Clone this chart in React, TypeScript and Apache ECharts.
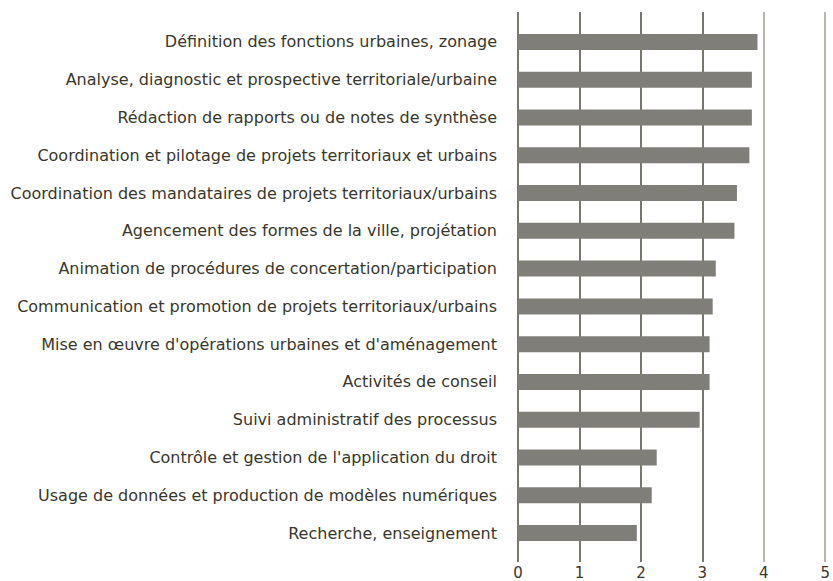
import React, { useEffect, useRef } from "react";
import * as echarts from "echarts";

const categories = [
  "Définition des fonctions urbaines, zonage",
  "Analyse, diagnostic et prospective territoriale/urbaine",
  "Rédaction de rapports ou de notes de synthèse",
  "Coordination et pilotage de projets territoriaux et urbains",
  "Coordination des mandataires de projets territoriaux/urbains",
  "Agencement des formes de la ville, projétation",
  "Animation de procédures de concertation/participation",
  "Communication et promotion de projets territoriaux/urbains",
  "Mise en œuvre d'opérations urbaines et d'aménagement",
  "Activités de conseil",
  "Suivi administratif des processus",
  "Contrôle et gestion de l'application du droit",
  "Usage de données et production de modèles numériques",
  "Recherche, enseignement",
];
const values = [3.85, 3.76, 3.76, 3.72, 3.52, 3.48, 3.18, 3.13, 3.08, 3.08, 2.92, 2.23, 2.15, 1.91];
const tickLabels = ["0", "1", "2", "3", "4", "5"];

export default function App() {
  const ref = useRef<HTMLDivElement>(null);
  useEffect(() => {
    const chart = echarts.init(ref.current!, null, { renderer: "svg" });
    const font = "'DejaVu Sans'";
    chart.setOption({
      animation: false,
      grid: [
        { left: 518, right: 4, top: 23, bottom: 29, containLabel: false },
        { left: 518, right: 4, top: 12, bottom: 19, containLabel: false },
      ],
      xAxis: [
        {
          gridIndex: 0,
          type: "value",
          min: 0,
          max: 5,
          interval: 1,
          axisLine: { show: false },
          axisTick: { show: false },
          axisLabel: { show: false },
          splitLine: { show: false },
        },
        {
          gridIndex: 1,
          type: "value",
          min: 0,
          max: 5,
          interval: 1,
          axisLine: { show: false },
          axisTick: { show: false },
          axisLabel: {
            show: true,
            margin: 4,
            color: "#3a372c",
            fontSize: 15,
            lineHeight: 14,
            fontFamily: font,
            formatter: (v: number) => tickLabels[Math.round(v)],
          },
          splitLine: {
            show: true,
            lineStyle: {
              width: 1.5,
              color: ["#4d4a3c", "#4d4a3c", "#4d4a3c", "#4d4a3c", "#a09e94", "#a09e94"],
            },
          },
        },
      ],
      yAxis: [
        {
          gridIndex: 0,
          type: "category",
          inverse: true,
          data: categories,
          axisLine: { show: false },
          axisTick: { show: false },
          axisLabel: {
            margin: 21,
            color: "#3a372c",
            fontSize: 16,
            fontFamily: font,
          },
        },
        {
          gridIndex: 1,
          type: "value",
          show: false,
          min: 0,
          max: 1,
        },
      ],
      series: [
        {
          type: "bar",
          xAxisIndex: 0,
          yAxisIndex: 0,
          data: values,
          barWidth: 16,
          itemStyle: { color: "#7f7e78" },
          z: 3,
        },
      ],
    });
    return () => chart.dispose();
  }, []);
  return <div ref={ref} style={{ width: 833, height: 581, position: "absolute", left: 0, top: 0 }} />;
}
